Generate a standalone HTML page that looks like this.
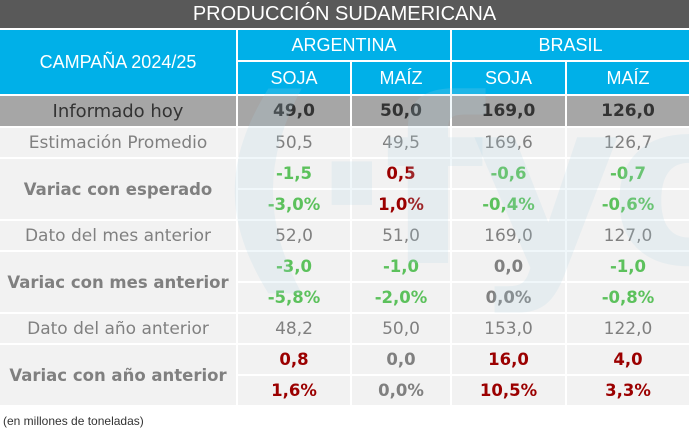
<!DOCTYPE html>
<html><head><meta charset="utf-8"><style>
body{margin:0;width:689px;height:435px;background:#fff;position:relative;overflow:hidden;font-family:"DejaVu Sans",sans-serif}
.c{position:absolute;display:flex;align-items:center;justify-content:center;box-sizing:border-box;white-space:nowrap}
.h{background:#00b0e8;color:#fff;font-family:"Liberation Sans",sans-serif;font-size:18px}
.g{background:#f2f2f2;color:#808080;font-size:17px}
.b{font-weight:bold;font-size:16.5px}
.gr{color:#5cc15c}.rd{color:#9b0000}.gy{color:#808080}
.wm{position:absolute;left:215px;top:70px;font-family:"DejaVu Sans",sans-serif;font-weight:bold;font-size:230px;color:rgba(170,210,225,0.18);letter-spacing:-12px;line-height:1;z-index:5;pointer-events:none}
</style></head><body>
<div class="c" style="left:0;top:0;width:689px;height:28px;background:#595959;color:#fff;font-family:'Liberation Sans',sans-serif;font-size:20px">PRODUCCIÓN SUDAMERICANA</div>
<div class="c h" style="left:0;top:30px;width:236px;height:64px">CAMPAÑA 2024/25</div>
<div class="c h" style="left:238px;top:30px;width:212px;height:30px">ARGENTINA</div>
<div class="c h" style="left:452px;top:30px;width:237px;height:30px">BRASIL</div>
<div class="c h" style="left:238px;top:62px;width:112px;height:32px">SOJA</div>
<div class="c h" style="left:352px;top:62px;width:98px;height:32px">MAÍZ</div>
<div class="c h" style="left:452px;top:62px;width:113px;height:32px">SOJA</div>
<div class="c h" style="left:567px;top:62px;width:122px;height:32px">MAÍZ</div>

<div class="c" style="left:0;top:96px;width:236px;height:30px;background:#a6a6a6;color:#333;font-size:18px">Informado hoy</div>
<div class="c b" style="left:238px;top:96px;width:112px;height:30px;background:#a6a6a6;color:#333;font-size:17px">49,0</div>
<div class="c b" style="left:352px;top:96px;width:98px;height:30px;background:#a6a6a6;color:#333;font-size:17px">50,0</div>
<div class="c b" style="left:452px;top:96px;width:113px;height:30px;background:#a6a6a6;color:#333;font-size:17px">169,0</div>
<div class="c b" style="left:567px;top:96px;width:122px;height:30px;background:#a6a6a6;color:#333;font-size:17px">126,0</div>

<div class="c g" style="left:0;top:128px;width:236px;height:29px">Estimación Promedio</div>
<div class="c g" style="left:238px;top:128px;width:112px;height:29px">50,5</div>
<div class="c g" style="left:352px;top:128px;width:98px;height:29px">49,5</div>
<div class="c g" style="left:452px;top:128px;width:113px;height:29px">169,6</div>
<div class="c g" style="left:567px;top:128px;width:122px;height:29px">126,7</div>

<div class="c g b" style="left:0;top:159px;width:236px;height:60px">Variac con esperado</div>
<div class="c g b gr" style="left:238px;top:159px;width:112px;height:29px">-1,5</div>
<div class="c g b rd" style="left:352px;top:159px;width:98px;height:29px">0,5</div>
<div class="c g b gr" style="left:452px;top:159px;width:113px;height:29px">-0,6</div>
<div class="c g b gr" style="left:567px;top:159px;width:122px;height:29px">-0,7</div>
<div class="c g b gr" style="left:238px;top:190px;width:112px;height:29px">-3,0%</div>
<div class="c g b rd" style="left:352px;top:190px;width:98px;height:29px">1,0%</div>
<div class="c g b gr" style="left:452px;top:190px;width:113px;height:29px">-0,4%</div>
<div class="c g b gr" style="left:567px;top:190px;width:122px;height:29px">-0,6%</div>

<div class="c g" style="left:0;top:221px;width:236px;height:29px">Dato del mes anterior</div>
<div class="c g" style="left:238px;top:221px;width:112px;height:29px">52,0</div>
<div class="c g" style="left:352px;top:221px;width:98px;height:29px">51,0</div>
<div class="c g" style="left:452px;top:221px;width:113px;height:29px">169,0</div>
<div class="c g" style="left:567px;top:221px;width:122px;height:29px">127,0</div>

<div class="c g b" style="left:0;top:252px;width:236px;height:60px">Variac con mes anterior</div>
<div class="c g b gr" style="left:238px;top:252px;width:112px;height:29px">-3,0</div>
<div class="c g b gr" style="left:352px;top:252px;width:98px;height:29px">-1,0</div>
<div class="c g b gy" style="left:452px;top:252px;width:113px;height:29px">0,0</div>
<div class="c g b gr" style="left:567px;top:252px;width:122px;height:29px">-1,0</div>
<div class="c g b gr" style="left:238px;top:283px;width:112px;height:29px">-5,8%</div>
<div class="c g b gr" style="left:352px;top:283px;width:98px;height:29px">-2,0%</div>
<div class="c g b gy" style="left:452px;top:283px;width:113px;height:29px">0,0%</div>
<div class="c g b gr" style="left:567px;top:283px;width:122px;height:29px">-0,8%</div>

<div class="c g" style="left:0;top:314px;width:236px;height:29px">Dato del año anterior</div>
<div class="c g" style="left:238px;top:314px;width:112px;height:29px">48,2</div>
<div class="c g" style="left:352px;top:314px;width:98px;height:29px">50,0</div>
<div class="c g" style="left:452px;top:314px;width:113px;height:29px">153,0</div>
<div class="c g" style="left:567px;top:314px;width:122px;height:29px">122,0</div>

<div class="c g b" style="left:0;top:345px;width:236px;height:60px">Variac con año anterior</div>
<div class="c g b rd" style="left:238px;top:345px;width:112px;height:29px">0,8</div>
<div class="c g b gy" style="left:352px;top:345px;width:98px;height:29px">0,0</div>
<div class="c g b rd" style="left:452px;top:345px;width:113px;height:29px">16,0</div>
<div class="c g b rd" style="left:567px;top:345px;width:122px;height:29px">4,0</div>
<div class="c g b rd" style="left:238px;top:376px;width:112px;height:29px">1,6%</div>
<div class="c g b gy" style="left:352px;top:376px;width:98px;height:29px">0,0%</div>
<div class="c g b rd" style="left:452px;top:376px;width:113px;height:29px">10,5%</div>
<div class="c g b rd" style="left:567px;top:376px;width:122px;height:29px">3,3%</div>

<div style="position:absolute;left:3px;top:414px;font-family:'Liberation Sans',sans-serif;font-size:12px;color:#333">(en millones de toneladas)</div>
<div class="wm">(·fyo</div>
</body></html>
